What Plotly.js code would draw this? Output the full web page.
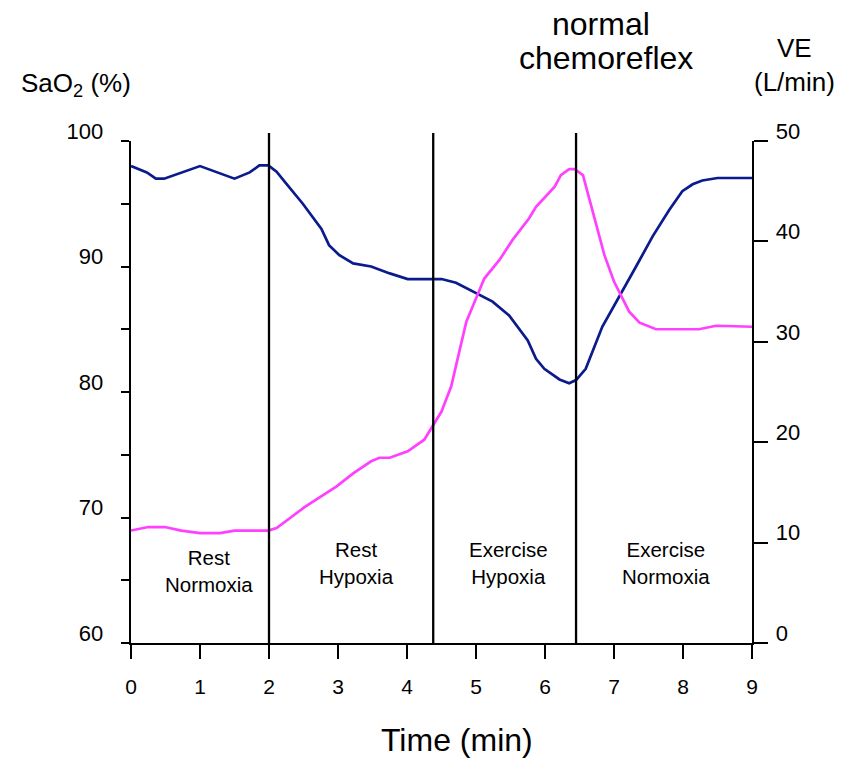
<!DOCTYPE html>
<html>
<head>
<meta charset="utf-8">
<script src="https://cdn.plot.ly/plotly-3.0.1.min.js"></script>
<style>html,body{margin:0;padding:0;background:#fff;}#chart{width:844px;height:760px;}</style>
</head>
<body>
<div id="chart"></div>
<script>
// ---- data ----
var saoTime = [0.00,0.23,0.36,0.48,1.00,1.24,1.50,1.72,1.86,1.99,2.11,2.25,2.49,2.76,2.87,3.02,3.22,3.48,3.75,4.01,4.30,4.50,4.71,5.00,5.24,5.48,5.75,5.87,5.99,6.21,6.35,6.45,6.59,6.83,7.08,7.32,7.56,7.80,7.99,8.14,8.28,8.50,9.00];
var saoValues = [98.0,97.5,97.0,97.0,98.0,97.5,97.0,97.5,98.05,98.05,97.55,96.6,95.0,93.0,91.7,90.9,90.25,90.0,89.45,89.0,89.0,89.0,88.7,87.85,87.2,86.1,84.1,82.65,81.85,81.0,80.7,80.95,81.85,85.2,87.6,90.0,92.4,94.5,96.0,96.55,96.85,97.05,97.05];

var veTime = [0.00,0.25,0.49,0.73,1.00,1.29,1.50,1.99,2.11,2.52,2.98,3.22,3.48,3.60,3.75,4.01,4.25,4.40,4.50,4.57,4.64,4.74,4.86,4.95,5.12,5.34,5.53,5.77,5.87,6.14,6.23,6.35,6.43,6.55,6.67,6.86,7.00,7.22,7.37,7.61,8.23,8.48,9.00];
var veValues = [11.2,11.55,11.55,11.2,10.95,10.95,11.2,11.2,11.45,13.55,15.6,16.9,18.1,18.45,18.45,19.1,20.25,21.9,23.05,24.3,25.55,28.5,32.0,33.5,36.3,38.15,40.15,42.3,43.45,45.45,46.6,47.2,47.2,46.6,43.45,38.65,36.0,33.0,31.9,31.25,31.25,31.6,31.5];

var phaseBounds = [2.0, 4.38, 6.45];
var phaseLabels = ["Rest<br>Normoxia", "Rest<br>Hypoxia", "Exercise<br>Hypoxia", "Exercise<br>Normoxia"];
var phaseCenters = [1.13, 3.27, 5.47, 7.75];

var xTicks = [0,1,2,3,4,5,6,7,8,9];
var leftTicks = [60,65,70,75,80,85,90,95,100];
var leftTickText = ["60","","70","","80","","90","","100"];
var rightTicks = [0,10,20,30,40,50];

// ---- layout helpers (pixel -> paper) ----
var L = 131, R = 92, T = 141, B = 117, W = 844, H = 760;
var pw = W - L - R, ph = H - T - B;
function px(x){ return (x - L) / pw; }
function py(y){ return (H - B - y) / ph; }
var phaseLabelY = [571, 563, 563, 563];

var FONT = "Arial, 'Liberation Sans', Helvetica, sans-serif";

var traces = [
  {x: saoTime, y: saoValues, type: 'scatter', mode: 'lines', yaxis: 'y',
   line: {color: '#0b1b8c', width: 2.7}, hoverinfo: 'skip'},
  {x: veTime, y: veValues, type: 'scatter', mode: 'lines', yaxis: 'y2',
   line: {color: '#ff40ff', width: 2.7}, hoverinfo: 'skip'}
];

var shapes = phaseBounds.map(function(b){
  return {type: 'line', xref: 'x', yref: 'paper', x0: b, x1: b, y0: 0, y1: 1.016,
          line: {color: '#000', width: 2.3}};
});

var annotations = [];
phaseLabels.forEach(function(t, i){
  annotations.push({xref: 'x', yref: 'paper', x: phaseCenters[i], y: py(phaseLabelY[i]), text: t,
    showarrow: false, xanchor: 'center', yanchor: 'middle', align: 'center',
    font: {family: FONT, size: 20.5, color: '#000'}});
});
annotations.push({xref:'paper', yref:'paper', x: px(601), y: py(24), text: 'normal', showarrow:false,
  xanchor:'center', yanchor:'middle', font:{family:FONT, size:32, color:'#000'}});
annotations.push({xref:'paper', yref:'paper', x: px(605.5), y: py(58), text: 'chemoreflex', showarrow:false,
  xanchor:'center', yanchor:'middle', font:{family:FONT, size:32, color:'#000'}});
annotations.push({xref:'paper', yref:'paper', x: px(76), y: py(84), text: 'SaO<sub>2</sub> (%)', showarrow:false,
  xanchor:'center', yanchor:'middle', font:{family:FONT, size:26, color:'#000'}});
annotations.push({xref:'paper', yref:'paper', x: px(794), y: py(48), text: 'VE', showarrow:false,
  xanchor:'center', yanchor:'middle', font:{family:FONT, size:26, color:'#000'}});
annotations.push({xref:'paper', yref:'paper', x: px(794), y: py(82), text: '(L/min)', showarrow:false,
  xanchor:'center', yanchor:'middle', font:{family:FONT, size:26, color:'#000'}});
annotations.push({xref:'paper', yref:'paper', x: px(457), y: py(740), text: 'Time (min)', showarrow:false,
  xanchor:'center', yanchor:'middle', font:{family:FONT, size:32, color:'#000'}});

var layout = {
  width: W, height: H,
  margin: {l: L, r: R, t: T, b: B, pad: 0},
  paper_bgcolor: '#fff', plot_bgcolor: '#fff',
  showlegend: false,
  font: {family: FONT, color: '#000'},
  xaxis: {range: [0, 9], tickvals: xTicks, ticks: 'outside', ticklen: 14, tickwidth: 2, tickcolor: '#000',
          showline: true, linewidth: 2.3, linecolor: '#000', showgrid: false, zeroline: false,
          ticklabelstandoff: 9,
          tickfont: {family: FONT, size: 21, color: '#000'}, fixedrange: true},
  yaxis: {range: [60, 100], tickvals: leftTicks, ticktext: leftTickText, ticks: 'outside', ticklen: 8,
          tickwidth: 2, tickcolor: '#000', showline: true, linewidth: 2.3, linecolor: '#000',
          showgrid: false, zeroline: false, ticklabelshift: -10, ticklabelstandoff: 13,
          tickfont: {family: FONT, size: 22, color: '#000'}, fixedrange: true},
  yaxis2: {range: [0, 50], tickvals: rightTicks, overlaying: 'y', side: 'right', anchor: 'x',
           ticks: 'outside', ticklen: 14, tickwidth: 2, tickcolor: '#000', showline: true, linewidth: 2.3,
           linecolor: '#000', showgrid: false, zeroline: false, ticklabelshift: -10, ticklabelstandoff: 3,
           tickfont: {family: FONT, size: 22, color: '#000'}, fixedrange: true},
  shapes: shapes,
  annotations: annotations
};

Plotly.newPlot('chart', traces, layout, {displayModeBar: false, staticPlot: true});
</script>
</body>
</html>
